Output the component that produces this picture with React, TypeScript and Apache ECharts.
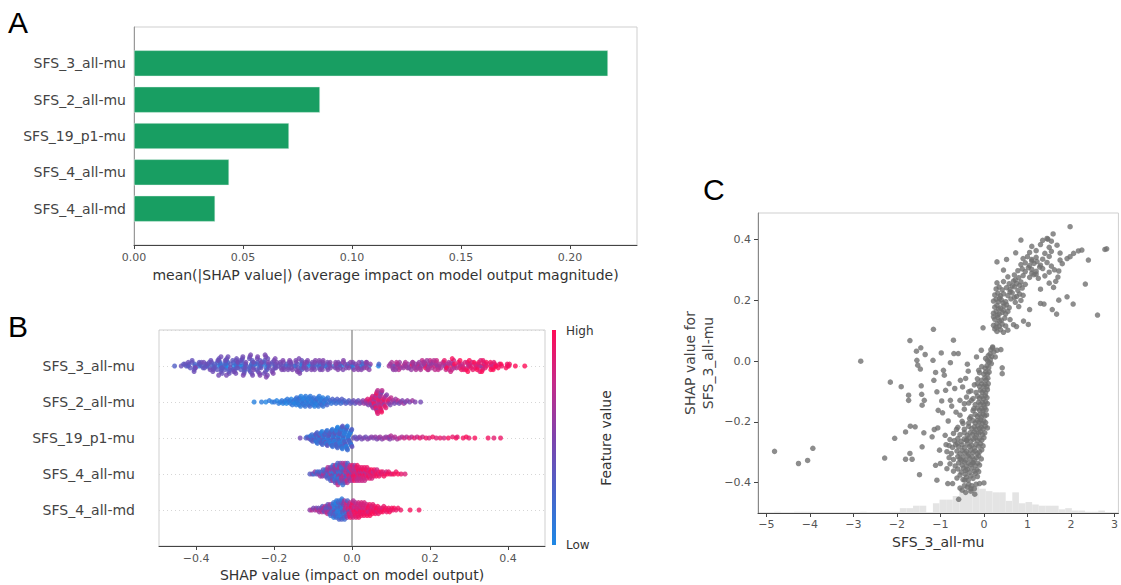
import React, { useEffect, useRef } from 'react';
import * as echarts from 'echarts';

// ---------------- DATA ----------------
const features = ['SFS_3_all-mu', 'SFS_2_all-mu', 'SFS_19_p1-mu', 'SFS_4_all-mu', 'SFS_4_all-md'];
const meanAbsShap = [0.2174, 0.0853, 0.0711, 0.0436, 0.0372];

const aTicks = [0, 0.05, 0.1, 0.15, 0.2];
const bTicks = [-0.4, -0.2, 0, 0.2, 0.4];
const cXTicks = [-5, -4, -3, -2, -1, 0, 1, 2, 3];
const cYTicks = [-0.4, -0.2, 0, 0.2, 0.4];

// Panel C: [feature value SFS_3_all-mu, SHAP value for SFS_3_all-mu]
const sfs3Points: number[][] = [
  [-4.81,-0.297],[-4.26,-0.337],[-4.05,-0.327],[-3.93,-0.287],[-2.83,0.0],[-2.28,-0.319],[-2.15,-0.069],[-2.05,-0.254],[-1.9,-0.084],[-1.8,-0.233],[-1.8,-0.323],[-1.73,-0.112],[-1.73,-0.129],[-1.7,0.068],[-1.7,-0.304],[-1.69,-0.214],[-1.65,-0.323],[-1.58,-0.216],[-1.55,0.033],[-1.54,0.003],[-1.52,-0.013],[-1.48,-0.374],[-1.46,-0.026],[-1.45,0.044],[-1.44,-0.081],[-1.43,-0.109],[-1.42,-0.145],[-1.42,-0.282],[-1.38,-0.236],[-1.37,-0.129],[-1.35,0.022],[-1.19,-0.249],[-1.17,0.003],[-1.16,0.105],[-1.15,-0.063],[-1.14,-0.225],[-1.11,-0.037],[-1.11,-0.343],[-1.08,-0.392],[-1.08,-0.101],[-1.06,-0.22],[-1.05,-0.162],[-1.02,-0.293],[-1.0,-0.337],[-0.98,0.027],[-0.97,-0.131],[-0.95,-0.17],[-0.93,-0.03],[-0.91,-0.046],[-0.89,-0.244],[-0.88,-0.096],[-0.87,-0.275],[-0.85,-0.354],[-0.83,-0.403],[-0.82,-0.197],[-0.8,-0.074],[-0.77,-0.005],[-0.77,-0.129],[-0.74,-0.148],[-0.72,-0.403],[-0.7,0.069],[-0.69,0.025],[-0.67,-0.09],[-0.64,-0.168],[-0.63,-0.225],[-0.61,-0.271],[-0.59,0.025],[-0.58,-0.455],[-0.55,-0.129],[-0.54,-0.063],[-0.52,-0.326],[-0.49,-0.085],[-0.48,-0.205],[-0.45,-0.14],[-0.44,-0.392],[-0.42,-0.057],[-0.4,-0.26],[-0.38,-0.01],[-0.36,-0.033],[-0.35,-0.101],[-0.33,-0.189],[-0.3,-0.42],[-0.29,-0.129],[-0.25,-0.335],[-0.23,-0.156],[-0.21,-0.438],[-0.17,0.014],[-0.15,-0.074],[-0.12,-0.03],[-0.1,-0.403],[-0.06,0.036],[-0.02,0.11],[0.0,-0.401],[0.04,0.009],[0.17,-0.008],[0.2,0.047],[0.23,0.031],[0.26,0.014],[0.3,0.036],[0.39,0.038],[0.42,-0.022],[0.42,-0.041],
  [-0.55,-0.418],[-0.5,-0.425],[-0.45,-0.41],[-0.42,-0.432],[-0.38,-0.415],[-0.35,-0.405],[-0.3,-0.428],[-0.28,-0.41],[-0.22,-0.42],[-0.18,-0.405],
  [-0.62,-0.385],[-0.55,-0.375],[-0.48,-0.39],[-0.43,-0.372],[-0.4,-0.382],[-0.36,-0.392],[-0.3,-0.378],[-0.25,-0.386],[-0.2,-0.37],[-0.15,-0.38],
  [-0.7,-0.362],[-0.6,-0.355],[-0.52,-0.365],[-0.47,-0.352],[-0.42,-0.36],[-0.38,-0.356],[-0.33,-0.366],[-0.28,-0.352],[-0.22,-0.362],[-0.16,-0.357],[-0.12,-0.364],
  [-0.78,-0.338],[-0.66,-0.345],[-0.58,-0.335],[-0.5,-0.342],[-0.45,-0.332],[-0.4,-0.346],[-0.35,-0.336],[-0.3,-0.341],[-0.25,-0.333],[-0.2,-0.344],[-0.14,-0.336],[-0.1,-0.342],
  [-0.8,-0.318],[-0.7,-0.324],[-0.6,-0.314],[-0.55,-0.322],[-0.48,-0.316],[-0.42,-0.326],[-0.37,-0.312],[-0.32,-0.321],[-0.27,-0.315],[-0.22,-0.325],[-0.17,-0.318],[-0.12,-0.312],[-0.06,-0.322],
  [-0.85,-0.298],[-0.75,-0.304],[-0.62,-0.296],[-0.55,-0.305],[-0.5,-0.294],[-0.44,-0.302],[-0.4,-0.297],[-0.35,-0.306],[-0.3,-0.293],[-0.25,-0.301],[-0.2,-0.296],[-0.15,-0.304],[-0.1,-0.298],[-0.05,-0.292],
  [-0.8,-0.278],[-0.72,-0.284],[-0.65,-0.275],[-0.58,-0.282],[-0.5,-0.276],[-0.45,-0.285],[-0.38,-0.273],[-0.33,-0.281],[-0.28,-0.277],[-0.22,-0.286],[-0.18,-0.274],[-0.12,-0.28],[-0.08,-0.272],[-0.02,-0.279],
  [-0.78,-0.258],[-0.68,-0.262],[-0.6,-0.255],[-0.52,-0.264],[-0.45,-0.256],[-0.4,-0.261],[-0.35,-0.253],[-0.3,-0.263],[-0.24,-0.257],[-0.2,-0.252],[-0.15,-0.262],[-0.1,-0.255],[-0.05,-0.26],[0.0,-0.252],
  [-0.7,-0.238],[-0.55,-0.242],[-0.45,-0.235],[-0.38,-0.244],[-0.32,-0.236],[-0.26,-0.241],[-0.22,-0.233],[-0.17,-0.243],[-0.12,-0.237],[-0.08,-0.232],[-0.03,-0.242],[0.02,-0.236],
  [-0.6,-0.218],[-0.45,-0.224],[-0.35,-0.215],[-0.28,-0.222],[-0.22,-0.216],[-0.18,-0.225],[-0.14,-0.213],[-0.1,-0.221],[-0.06,-0.217],[-0.02,-0.223],[0.03,-0.214],[0.08,-0.22],
  [-0.5,-0.198],[-0.35,-0.204],[-0.25,-0.196],[-0.2,-0.203],[-0.15,-0.195],[-0.11,-0.2],[-0.07,-0.193],[-0.04,-0.205],[0.0,-0.197],[0.04,-0.202],
  [-0.55,-0.178],[-0.3,-0.183],[-0.2,-0.175],[-0.15,-0.182],[-0.1,-0.176],[-0.06,-0.184],[-0.02,-0.174],[0.02,-0.18],[0.06,-0.177],
  [-0.45,-0.158],[-0.25,-0.163],[-0.15,-0.155],[-0.1,-0.161],[-0.05,-0.156],[-0.02,-0.164],[0.02,-0.153],[0.05,-0.16],
  [-0.35,-0.138],[-0.2,-0.143],[-0.12,-0.135],[-0.08,-0.142],[-0.03,-0.136],[0.0,-0.144],[0.04,-0.134],[0.08,-0.14],
  [-0.4,-0.118],[-0.25,-0.123],[-0.15,-0.115],[-0.1,-0.122],[-0.05,-0.116],[-0.01,-0.124],[0.03,-0.114],[0.07,-0.12],
  [-0.3,-0.098],[-0.18,-0.103],[-0.08,-0.095],[-0.04,-0.102],[0.0,-0.096],[0.04,-0.104],[0.08,-0.094],
  [-0.22,-0.078],[-0.1,-0.083],[-0.05,-0.075],[0.0,-0.082],[0.03,-0.076],[0.07,-0.084],[0.1,-0.074],
  [-0.15,-0.058],[-0.06,-0.063],[0.02,-0.055],[0.05,-0.062],[0.09,-0.056],
  [-0.1,-0.038],[0.0,-0.043],[0.04,-0.035],[0.08,-0.042],[0.12,-0.036],
  [-0.05,-0.018],[0.03,-0.023],[0.07,-0.015],[0.11,-0.022],
  [0.08,0.002],[0.12,-0.004],[0.15,0.005],[0.1,0.018],[0.14,0.024],[0.18,0.016],[0.16,0.038],[0.2,0.044],
  [1.98,0.443],[0.85,0.399],[1.59,0.419],[1.47,0.402],[2.78,0.368],[2.82,0.37],[2.4,0.333],[2.33,0.254],[2.61,0.152],[2.05,0.188],[1.91,0.212],[1.72,0.201],[1.67,0.155],[1.57,0.17],[2.25,0.366],[2.17,0.363],[2.06,0.355],[1.98,0.344],[1.91,0.338],[1.3,0.19],[1.38,0.188],[1.05,0.17],[1.02,0.121],[0.91,0.132],[0.52,0.335],[0.45,0.3],[0.3,0.327],[0.73,0.357],
  [0.3,0.098],[0.38,0.104],[0.45,0.095],[0.55,0.102],[0.25,0.106],
  [0.22,0.118],[0.3,0.124],[0.35,0.115],[0.42,0.122],[0.5,0.116],[0.68,0.12],[0.75,0.114],[0.28,0.112],
  [0.25,0.138],[0.32,0.144],[0.4,0.135],[0.48,0.142],[0.6,0.137],[0.22,0.146],[0.36,0.132],
  [0.22,0.158],[0.28,0.163],[0.35,0.155],[0.42,0.161],[0.5,0.156],[0.55,0.164],[0.31,0.152],[0.45,0.168],
  [0.25,0.178],[0.3,0.184],[0.38,0.175],[0.46,0.182],[0.58,0.176],[0.8,0.18],[0.34,0.172],[0.52,0.186],
  [0.22,0.198],[0.28,0.204],[0.33,0.195],[0.4,0.202],[0.5,0.196],[0.62,0.205],[0.72,0.194],[0.85,0.2],[0.36,0.208],[0.44,0.192],
  [0.25,0.218],[0.32,0.224],[0.38,0.215],[0.45,0.222],[0.55,0.216],[0.65,0.225],[0.75,0.213],[0.82,0.221],[0.9,0.217],[0.6,0.228],[0.7,0.21],
  [0.28,0.238],[0.35,0.244],[0.42,0.235],[0.52,0.242],[0.6,0.236],[0.7,0.245],[0.78,0.233],[0.88,0.241],[1.3,0.237],[1.6,0.243],[0.65,0.248],[0.82,0.25],
  [0.3,0.258],[0.45,0.262],[0.58,0.255],[0.68,0.264],[0.75,0.256],[0.85,0.261],[0.95,0.253],[1.5,0.257],[1.65,0.263],[0.72,0.268],
  [0.55,0.278],[0.7,0.284],[0.8,0.275],[0.9,0.282],[1.05,0.276],[1.15,0.285],[1.25,0.273],[1.4,0.281],[1.7,0.277],[1.1,0.29],[1.2,0.287],
  [0.78,0.298],[0.88,0.304],[0.95,0.295],[1.1,0.302],[1.2,0.296],[1.35,0.305],[1.5,0.293],[1.62,0.301],[1.72,0.297],[1.02,0.308],[1.28,0.31],
  [0.85,0.318],[0.95,0.324],[1.05,0.315],[1.15,0.322],[1.3,0.316],[1.45,0.325],[1.55,0.313],[1.8,0.321],[1.1,0.33],[1.22,0.328],
  [0.9,0.338],[1.0,0.344],[1.1,0.335],[1.2,0.342],[1.35,0.336],[1.5,0.345],[1.75,0.333],
  [1.05,0.358],[1.2,0.364],[1.4,0.355],[1.55,0.362],[1.75,0.356],
  [1.1,0.378],[1.3,0.384],[1.5,0.375],[1.68,0.382],
  [1.35,0.398],[1.45,0.404],[1.55,0.395],
];

// Panel B rows 2-5: [SHAP value, normalized feature value]
const sfs2Points: number[][] = [
  [-0.251,0.05],[-0.232,0.08],[-0.221,0.03],[-0.212,0.1],[-0.205,0.06],[-0.199,0.12],[-0.193,0.04],[-0.188,0.09],[-0.184,0.07],[-0.18,0.11],
  [-0.177,0.05],[-0.174,0.13],[-0.171,0.08],[-0.168,0.02],[-0.166,0.1],[-0.163,0.06],[-0.16,0.14],[-0.158,0.09],[-0.156,0.04],[-0.153,0.12],[-0.151,0.07],[-0.149,0.15],[-0.147,0.03],[-0.145,0.1],[-0.143,0.08],[-0.142,0.16],[-0.141,0.05],[-0.14,0.11],
  [-0.138,0.09],[-0.137,0.13],[-0.135,0.06],[-0.134,0.18],[-0.132,0.1],[-0.131,0.04],[-0.129,0.12],[-0.128,0.08],[-0.126,0.15],[-0.125,0.07],[-0.123,0.11],[-0.122,0.03],[-0.12,0.14],[-0.119,0.09],[-0.117,0.06],[-0.116,0.17],[-0.114,0.1],[-0.113,0.05],[-0.111,0.13],[-0.11,0.08],[-0.108,0.2],[-0.107,0.11],[-0.105,0.04],[-0.104,0.15],[-0.102,0.09],[-0.101,0.07],[-0.099,0.12],[-0.098,0.16],[-0.096,0.06],[-0.095,0.1],[-0.093,0.14],[-0.092,0.08],[-0.09,0.19],[-0.089,0.05],[-0.087,0.11],[-0.086,0.13],[-0.084,0.09],[-0.083,0.17],[-0.081,0.07],[-0.08,0.12],[-0.078,0.1],[-0.077,0.22],[-0.075,0.06],[-0.074,0.14],[-0.072,0.11],[-0.07,0.18],[-0.068,0.08],[-0.066,0.13],[-0.064,0.24],[-0.062,0.1],
  [-0.059,0.16],[-0.056,0.2],[-0.053,0.12],[-0.05,0.26],[-0.047,0.15],[-0.044,0.22],[-0.041,0.18],[-0.038,0.28],[-0.035,0.14],[-0.032,0.25],[-0.029,0.2],[-0.026,0.3],[-0.023,0.17],[-0.02,0.27],[-0.016,0.33],[-0.012,0.22],[-0.008,0.3],[-0.004,0.36],
  [0.0,0.32],[0.004,0.4],[0.008,0.35],[0.012,0.45],[0.016,0.38],[0.02,0.5],[0.024,0.42],[0.028,0.55],
  [0.031,0.6],[0.034,0.48],[0.036,0.72],[0.038,0.58],[0.04,0.85],[0.042,0.5],[0.044,0.7],[0.046,0.92],[0.047,0.62],[0.049,0.8],[0.05,0.45],[0.051,0.95],[0.052,0.68],[0.053,0.78],[0.054,0.55],[0.055,0.88],[0.056,0.73],[0.057,0.98],[0.058,0.6],[0.058,0.82],[0.059,0.9],[0.06,0.52],[0.06,0.76],[0.061,0.94],[0.062,0.66],[0.062,0.86],[0.063,0.99],[0.064,0.58],[0.064,0.8],[0.065,0.92],[0.066,0.7],[0.066,0.84],[0.067,0.5],[0.068,0.96],[0.068,0.74],[0.069,0.88],[0.07,0.62],[0.07,0.9],[0.071,0.78],[0.072,0.55],[0.072,0.85],[0.073,0.7],[0.074,0.93],[0.074,0.6],[0.075,0.8],[0.076,0.48],[0.076,0.97],[0.077,0.72],[0.078,0.88],[0.079,0.64],[0.08,0.83],[0.081,0.95],[0.082,0.58],[0.083,0.76],[0.084,0.9],[0.086,0.68],[0.087,0.86],[0.089,0.52],[0.09,0.79],[0.092,0.94],[0.094,0.6],[0.096,0.82],[0.098,0.48],[0.1,0.72],
  [0.103,0.55],[0.106,0.65],[0.109,0.45],[0.112,0.6],[0.115,0.5],[0.118,0.7],[0.121,0.42],[0.125,0.58],[0.129,0.5],[0.133,0.62],[0.137,0.45],[0.142,0.55],[0.148,0.48],[0.155,0.6],[0.162,0.5],[0.176,0.45],
];

const sfs19Points: number[][] = [
  [-0.133,0.45],
  [-0.118,0.3],[-0.115,0.15],[-0.112,0.4],
  [-0.109,0.22],[-0.1075,0.35],[-0.106,0.1],[-0.104,0.28],[-0.1025,0.18],[-0.101,0.32],
  [-0.0995,0.12],[-0.0985,0.25],[-0.097,0.4],[-0.096,0.08],[-0.0945,0.2],[-0.0935,0.3],[-0.092,0.14],[-0.091,0.36],[-0.0905,0.1],
  [-0.0895,0.24],[-0.0885,0.16],[-0.0875,0.33],[-0.0865,0.06],[-0.0855,0.21],[-0.0845,0.28],[-0.0835,0.12],[-0.0825,0.38],[-0.0815,0.18],[-0.0805,0.09],
  [-0.0795,0.26],[-0.0786,0.15],[-0.0777,0.31],[-0.0768,0.05],[-0.0759,0.22],[-0.075,0.35],[-0.0741,0.13],[-0.0732,0.27],[-0.0723,0.08],[-0.0714,0.19],[-0.0705,0.3],
  [-0.0696,0.11],[-0.0688,0.24],[-0.068,0.37],[-0.0671,0.16],[-0.0663,0.07],[-0.0655,0.29],[-0.0646,0.2],[-0.0638,0.12],[-0.063,0.34],[-0.0621,0.05],[-0.0613,0.23],[-0.0605,0.15],
  [-0.0596,0.31],[-0.0588,0.1],[-0.0581,0.26],[-0.0573,0.18],[-0.0565,0.38],[-0.0558,0.07],[-0.055,0.22],[-0.0542,0.14],[-0.0535,0.3],[-0.0527,0.04],[-0.0519,0.19],[-0.0512,0.27],[-0.0504,0.11],
  [-0.0497,0.16],[-0.049,0.34],[-0.0483,0.07],[-0.0477,0.22],[-0.047,0.12],[-0.0463,0.29],[-0.0457,0.18],[-0.045,0.04],[-0.0443,0.26],[-0.0437,0.14],[-0.043,0.37],[-0.0423,0.09],[-0.0417,0.21],[-0.041,0.31],[-0.0403,0.11],
  [-0.0397,0.19],[-0.0391,0.06],[-0.0385,0.28],[-0.0379,0.15],[-0.0373,0.23],[-0.0368,0.03],[-0.0362,0.33],[-0.0356,0.1],[-0.035,0.2],[-0.0344,0.13],[-0.0338,0.27],[-0.0332,0.08],[-0.0326,0.17],[-0.0321,0.36],[-0.0315,0.12],[-0.0309,0.24],[-0.0303,0.05],
  [-0.0297,0.3],[-0.0292,0.14],[-0.0286,0.21],[-0.0281,0.09],[-0.0275,0.18],[-0.027,0.29],[-0.0264,0.04],[-0.0259,0.16],[-0.0253,0.25],[-0.0248,0.11],[-0.0242,0.34],[-0.0237,0.07],[-0.0231,0.2],[-0.0226,0.13],[-0.022,0.26],[-0.0215,0.03],[-0.0209,0.17],[-0.0204,0.22],
  [-0.0197,0.1],[-0.0192,0.29],[-0.0186,0.06],[-0.0181,0.19],[-0.0175,0.12],[-0.017,0.34],[-0.0164,0.08],[-0.0159,0.24],[-0.0153,0.15],[-0.0148,0.02],[-0.0142,0.21],[-0.0137,0.1],[-0.0131,0.31],[-0.0126,0.14],[-0.012,0.05],[-0.0115,0.18],[-0.0109,0.26],[-0.0104,0.09],
  [-0.0097,0.16],[-0.009,0.04],[-0.0083,0.22],[-0.0076,0.12],[-0.0069,0.3],[-0.0062,0.07],[-0.0055,0.18],[-0.0048,0.1],[-0.0041,0.25],[-0.0034,0.03],[-0.0027,0.15],[-0.002,0.2],[-0.0013,0.09],[-0.0006,0.28],
  [0.0,0.38],[0.004,0.42],[0.008,0.36],[0.012,0.45],[0.016,0.4],[0.02,0.48],[0.025,0.44],[0.03,0.5],[0.035,0.42],[0.04,0.52],[0.045,0.47],[0.05,0.55],[0.055,0.5],[0.06,0.58],[0.064,0.46],[0.068,0.56],[0.072,0.6],[0.077,0.52],[0.082,0.62],[0.087,0.55],[0.092,0.65],[0.095,0.58],[0.097,0.5],[0.1,0.68],[0.105,0.6],[0.11,0.7],[0.116,0.62],[0.122,0.75],[0.128,0.66],[0.134,0.8],[0.14,0.7],[0.147,0.85],[0.153,0.72],[0.16,0.88],[0.167,0.78],[0.174,0.9],[0.181,0.8],[0.19,0.92],[0.198,0.84],[0.207,0.95],[0.216,0.86],[0.226,0.9],[0.236,0.82],[0.247,0.96],[0.258,0.9],[0.267,0.98],[0.27,0.88],[0.285,0.94],[0.293,0.99],[0.3,0.9],[0.315,0.97],[0.349,0.95],[0.364,0.88],[0.381,0.92],
];

const sfs4MuPoints: number[][] = [
  [-0.108,0.3],[-0.102,0.45],
  [-0.098,0.2],[-0.095,0.55],[-0.091,0.35],
  [-0.089,0.15],[-0.086,0.5],[-0.084,0.28],[-0.081,0.62],
  [-0.079,0.4],[-0.078,0.18],[-0.076,0.52],[-0.074,0.33],[-0.073,0.7],[-0.071,0.25],
  [-0.069,0.48],[-0.068,0.12],[-0.067,0.6],[-0.066,0.38],[-0.065,0.22],[-0.064,0.55],[-0.063,0.3],[-0.062,0.68],[-0.061,0.15],
  [-0.0595,0.45],[-0.059,0.35],[-0.058,0.62],[-0.057,0.2],[-0.056,0.5],[-0.055,0.28],[-0.054,0.72],[-0.053,0.1],[-0.052,0.42],[-0.0515,0.58],[-0.051,0.25],[-0.0505,0.36],
  [-0.0495,0.65],[-0.049,0.18],[-0.048,0.5],[-0.0475,0.08],[-0.047,0.32],[-0.046,0.6],[-0.0455,0.22],[-0.045,0.45],[-0.044,0.12],[-0.0435,0.7],[-0.043,0.38],[-0.042,0.28],[-0.0415,0.55],[-0.041,0.05],[-0.0405,0.42],
  [-0.0398,0.18],[-0.0392,0.64],[-0.0386,0.3],[-0.038,0.1],[-0.0374,0.5],[-0.0368,0.25],[-0.0362,0.75],[-0.0356,0.35],[-0.035,0.15],[-0.0344,0.58],[-0.0338,0.44],[-0.0332,0.08],[-0.0326,0.68],[-0.032,0.27],[-0.0314,0.52],[-0.0308,0.2],[-0.0302,0.4],
  [-0.0296,0.62],[-0.029,0.12],[-0.0284,0.48],[-0.0278,0.33],[-0.0272,0.72],[-0.0266,0.06],[-0.026,0.56],[-0.0254,0.24],[-0.0248,0.4],[-0.0242,0.66],[-0.0236,0.16],[-0.023,0.5],[-0.0224,0.3],[-0.0218,0.78],[-0.0212,0.44],[-0.0206,0.6],
  [-0.0198,0.2],[-0.0192,0.52],[-0.0186,0.74],[-0.018,0.35],[-0.0174,0.65],[-0.0168,0.1],[-0.0162,0.8],[-0.0156,0.45],[-0.015,0.7],[-0.0144,0.28],[-0.0138,0.58],[-0.0132,0.85],[-0.0126,0.4],[-0.012,0.68],[-0.0114,0.22],
  [-0.0097,0.76],[-0.009,0.55],[-0.0083,0.88],[-0.0076,0.36],[-0.0069,0.62],[-0.0062,0.8],[-0.0055,0.48],[-0.0048,0.72],[-0.0041,0.9],[-0.0034,0.3],[-0.0027,0.66],[-0.002,0.82],[-0.0013,0.56],[-0.0006,0.76],
  [0.0003,0.7],[0.001,0.88],[0.0018,0.62],[0.0025,0.8],[0.0033,0.95],[0.004,0.68],[0.0048,0.84],[0.0055,0.74],[0.0063,0.92],[0.007,0.6],[0.0078,0.86],[0.0085,0.78],[0.0093,0.97],
  [0.0102,0.66],[0.011,0.82],[0.0118,0.9],[0.0126,0.72],[0.0134,0.94],[0.0142,0.64],[0.015,0.86],[0.0158,0.8],[0.0166,0.98],[0.0174,0.7],[0.0182,0.88],[0.019,0.76],
  [0.0203,0.93],[0.0212,0.68],[0.0221,0.84],[0.023,0.96],[0.0239,0.74],[0.0248,0.9],[0.0257,0.78],[0.0266,0.95],[0.0275,0.7],[0.0284,0.86],[0.0293,0.99],
  [0.0305,0.82],[0.0315,0.9],[0.0325,0.76],[0.0335,0.95],[0.0345,0.7],[0.0355,0.86],[0.0365,0.98],[0.0375,0.8],[0.0385,0.92],[0.0395,0.74],
  [0.041,0.88],[0.042,0.97],[0.0435,0.82],[0.045,0.9],[0.046,0.76],[0.047,0.95],[0.0485,0.86],[0.0495,0.99],
  [0.051,0.8],[0.0525,0.92],[0.054,0.72],[0.0555,0.88],[0.057,0.96],[0.058,0.84],[0.0595,0.9],
  [0.062,0.93],[0.064,0.78],[0.066,0.97],[0.068,0.88],[0.0695,0.95],
  [0.072,0.82],[0.0745,0.99],[0.077,0.9],[0.079,0.86],
  [0.082,0.96],[0.085,0.92],[0.088,0.8],
  [0.091,0.98],[0.094,0.9],[0.098,0.94],
  [0.103,0.88],[0.108,0.97],[0.113,0.92],[0.118,0.99],[0.126,0.9],[0.136,0.85],
];

const sfs4MdPoints: number[][] = [
  [-0.108,0.55],[-0.103,0.7],
  [-0.099,0.45],[-0.095,0.62],[-0.092,0.5],
  [-0.089,0.75],[-0.086,0.4],[-0.084,0.6],[-0.081,0.68],
  [-0.079,0.48],[-0.077,0.72],[-0.076,0.35],[-0.074,0.58],[-0.073,0.65],[-0.071,0.42],
  [-0.069,0.7],[-0.068,0.52],[-0.067,0.3],[-0.066,0.62],[-0.064,0.45],[-0.063,0.74],[-0.062,0.38],[-0.061,0.56],
  [-0.0595,0.25],[-0.059,0.66],[-0.058,0.48],[-0.057,0.32],[-0.056,0.6],[-0.055,0.2],[-0.054,0.52],[-0.053,0.4],[-0.052,0.15],[-0.051,0.58],
  [-0.0495,0.28],[-0.049,0.1],[-0.048,0.35],[-0.0475,0.18],[-0.047,0.06],[-0.046,0.25],[-0.0455,0.12],[-0.045,0.42],[-0.044,0.08],[-0.0435,0.2],[-0.043,0.15],[-0.042,0.3],[-0.0415,0.04],[-0.041,0.22],
  [-0.0398,0.1],[-0.0392,0.38],[-0.0386,0.16],[-0.038,0.07],[-0.0374,0.26],[-0.0368,0.12],[-0.0362,0.05],[-0.0356,0.2],[-0.035,0.33],[-0.0344,0.09],[-0.0338,0.14],[-0.0332,0.24],[-0.0326,0.03],[-0.032,0.18],[-0.0314,0.11],[-0.0308,0.3],[-0.0302,0.07],
  [-0.0296,0.22],[-0.029,0.13],[-0.0284,0.4],[-0.0278,0.05],[-0.0272,0.17],[-0.0266,0.28],[-0.026,0.1],[-0.0254,0.2],[-0.0248,0.08],[-0.0242,0.34],[-0.0236,0.14],[-0.023,0.25],[-0.0224,0.45],[-0.0218,0.12],[-0.0212,0.5],[-0.0206,0.3],
  [-0.0197,0.6],[-0.019,0.2],[-0.0182,0.55],[-0.0175,0.7],[-0.0167,0.38],[-0.016,0.65],[-0.0152,0.15],[-0.0145,0.75],[-0.0137,0.48],[-0.013,0.8],[-0.0122,0.58],[-0.0115,0.25],[-0.0107,0.72],
  [-0.0098,0.85],[-0.009,0.5],[-0.0083,0.78],[-0.0075,0.9],[-0.0068,0.62],[-0.006,0.82],[-0.0053,0.7],[-0.0045,0.92],[-0.0038,0.4],[-0.003,0.86],[-0.0023,0.75],[-0.0015,0.95],[-0.0008,0.68],
  [0.0002,0.85],[0.001,0.75],[0.0017,0.95],[0.0025,0.8],[0.0032,0.68],[0.004,0.9],[0.0047,0.78],[0.0055,0.97],[0.0062,0.72],[0.007,0.88],[0.0077,0.82],[0.0085,0.94],[0.0092,0.7],
  [0.0102,0.86],[0.011,0.99],[0.0118,0.76],[0.0126,0.9],[0.0134,0.84],[0.0142,0.96],[0.015,0.74],[0.0158,0.88],[0.0166,0.8],[0.0174,0.93],[0.0182,0.7],[0.019,0.86],
  [0.0202,0.98],[0.021,0.78],[0.0218,0.9],[0.0226,0.84],[0.0234,0.95],[0.0242,0.82],[0.025,0.92],[0.0258,0.76],[0.0266,0.97],[0.0274,0.86],[0.0282,0.9],[0.029,0.8],
  [0.0305,0.95],[0.0315,0.82],[0.0325,0.92],[0.0335,0.76],[0.0345,0.97],[0.0355,0.86],[0.0365,0.9],[0.0375,0.8],[0.0385,0.99],[0.0395,0.88],
  [0.041,0.94],[0.042,0.78],[0.043,0.96],[0.044,0.86],[0.045,0.92],[0.046,0.98],[0.047,0.84],[0.048,0.9],[0.049,0.95],
  [0.051,0.8],[0.052,0.99],[0.0535,0.88],[0.055,0.93],[0.056,0.85],[0.057,0.97],[0.058,0.9],[0.0595,0.96],
  [0.0615,0.92],[0.063,0.99],[0.0645,0.86],[0.066,0.95],[0.0675,0.9],[0.069,0.98],
  [0.0715,0.88],[0.0735,0.96],[0.0755,0.93],[0.0775,0.85],[0.079,0.97],
  [0.0815,0.9],[0.084,0.99],[0.0865,0.94],[0.089,0.88],
  [0.0915,0.96],[0.094,0.92],[0.0965,0.98],[0.099,0.9],
  [0.102,0.95],[0.105,0.92],[0.108,0.98],[0.113,0.9],[0.118,0.95],[0.125,0.93],
  [0.149,0.97],[0.172,0.94],
];

// Panel C histogram of SFS_3_all-mu
const histStart = -4.82;
const histBinWidth = 0.152;
const histCounts = [1,0,0,1,1,1,0,0,0,0,0,0,0,1,0,0,1,1,1,4,4,6,6,0,8,11,11,14,18,22,22,20,18,17,17,10,17,8,9,7,6,6,6,3,4,2,2,1,1,2];

// ---------------- HELPERS ----------------
const cmap = ['#1e88e5', '#4a63c9', '#7f43ad', '#c42b8a', '#ff0d57'];
const FONT = 'DejaVu Sans';
const fmt = (v: number, d: number) => (v < -1e-9 ? '\u2212' : '') + Math.abs(v).toFixed(d);

// shap-style beeswarm layout; bin count scaled with sample size (shap: 100 bins for ~500 samples)
function beeswarm(shaps: number[], rowHeight = 0.4): number[] {
  const nbins = Math.max(20, Math.round((100 * shaps.length) / 500));
  const mn = Math.min(...shaps);
  const mx = Math.max(...shaps);
  const quant = shaps.map((s) => Math.round((nbins * (s - mn)) / (mx - mn + 1e-8)));
  const inds = shaps.map((_, i) => i).sort((a, b) => quant[a] - quant[b] || a - b);
  const ys = new Array(shaps.length).fill(0);
  let layer = 0;
  let last = -1;
  for (const ind of inds) {
    if (quant[ind] !== last) layer = 0;
    ys[ind] = Math.ceil(layer / 2) * ((layer % 2) * 2 - 1);
    layer += 1;
    last = quant[ind];
  }
  const maxY = Math.max(...ys.map((y) => y + 1));
  const scale = 0.9 * (rowHeight / maxY);
  return ys.map((y) => y * scale);
}

function percentile(vals: number[], p: number) {
  const s = [...vals].sort((a, b) => a - b);
  const idx = (p / 100) * (s.length - 1);
  const lo = Math.floor(idx);
  const hi = Math.ceil(idx);
  return s[lo] + (s[hi] - s[lo]) * (idx - lo);
}

export default function App() {
  const ref = useRef<HTMLDivElement>(null);

  useEffect(() => {
    if (!ref.current) return;
    const chart = echarts.init(ref.current, undefined, { renderer: 'svg' });

    const fx = sfs3Points.map((p) => p[0]);
    const vmin = percentile(fx, 5);
    const vmax = percentile(fx, 95);
    const norm = (x: number) => Math.max(0, Math.min(1, (x - vmin) / (vmax - vmin)));
    const rowsData = [
      sfs3Points.map((p) => [p[1], norm(p[0])]),
      sfs2Points,
      sfs19Points,
      sfs4MuPoints,
      sfs4MdPoints,
    ];
    const nRows = features.length;
    const swarm: number[][] = [];
    rowsData.forEach((pts, i) => {
      const pos = nRows - 1 - i;
      const offs = beeswarm(pts.map((p) => p[0]));
      pts.forEach((p, k) => swarm.push([p[0], pos + offs[k], p[1]]));
    });

    const catA = ['', ...[...features].reverse(), ''];
    const barData = ['-', ...[...meanAbsShap].reverse(), '-'];

    const cYMin = -0.5;
    const maxCount = Math.max(...histCounts);
    const histData = histCounts.map((c, i) => [
      histStart + i * histBinWidth,
      histStart + (i + 1) * histBinWidth,
      (c / maxCount) * 0.088,
    ]);

    const labelStyle = { fontFamily: FONT, color: '#555', fontSize: 11 };
    const nameStyle = { fontFamily: FONT, color: '#333', fontSize: 14 };

    chart.setOption({
      animation: false,
      textStyle: { fontFamily: FONT },
      grid: [
        { left: 134, top: 27, width: 503, height: 218, show: true, borderColor: '#cfcfcf', borderWidth: 1 },
        { left: 159, top: 330, width: 386, height: 216, show: true, borderColor: '#cfcfcf', borderWidth: 1 },
        { left: 758, top: 213, width: 364, height: 300, show: true, borderColor: '#cfcfcf', borderWidth: 1 },
      ],
      xAxis: [
        {
          gridIndex: 0, type: 'value', min: 0, max: 0.2307, interval: 0.05,
          axisLine: { show: true, onZero: false, lineStyle: { color: '#444', width: 1 } },
          axisTick: { show: true, length: 4, lineStyle: { color: '#444' }, customValues: aTicks },
          axisLabel: { ...labelStyle, margin: 7, customValues: aTicks, formatter: (v: number) => fmt(v, 2) },
          splitLine: { show: false },
          name: 'mean(|SHAP value|) (average impact on model output magnitude)',
          nameLocation: 'middle', nameGap: 23, nameTextStyle: nameStyle,
        },
        {
          gridIndex: 1, type: 'value', min: -0.495, max: 0.495, minInterval: 0.2, maxInterval: 0.2,
          axisLine: { show: true, onZero: false, lineStyle: { color: '#444', width: 1 } },
          axisTick: { show: true, length: 4, lineStyle: { color: '#444' }, customValues: bTicks },
          axisLabel: { ...labelStyle, margin: 7, customValues: bTicks, formatter: (v: number) => fmt(v, 1) },
          splitLine: { show: false },
          name: 'SHAP value (impact on model output)',
          nameLocation: 'middle', nameGap: 22, nameTextStyle: nameStyle,
        },
        {
          gridIndex: 2, type: 'value', min: -5.19, max: 3.09, minInterval: 1, maxInterval: 1,
          axisLine: { show: true, onZero: false, lineStyle: { color: '#444', width: 1 } },
          axisTick: { show: true, length: 4, lineStyle: { color: '#444' }, customValues: cXTicks },
          axisLabel: { ...labelStyle, margin: 6, customValues: cXTicks, formatter: (v: number) => fmt(v, 0) },
          splitLine: { show: false },
          name: 'SFS_3_all-mu',
          nameLocation: 'middle', nameGap: 22, nameTextStyle: nameStyle,
        },
      ],
      yAxis: [
        {
          gridIndex: 0, type: 'category', data: catA, boundaryGap: false,
          axisLine: { show: true, onZero: false, lineStyle: { color: '#999' } },
          axisTick: { show: false },
          axisLabel: { fontFamily: FONT, color: '#444', fontSize: 14, margin: 8 },
          splitLine: { show: false },
        },
        {
          gridIndex: 1, type: 'value', min: -1, max: 5, interval: 1,
          axisLine: { show: false, onZero: false },
          axisTick: { show: false },
          axisLabel: {
            fontFamily: FONT, color: '#444', fontSize: 14, margin: 24,
            customValues: features.map((_, i) => nRows - 1 - i),
            formatter: (v: number) => features[nRows - 1 - Math.round(v)] ?? '',
          },
          splitLine: { show: true, lineStyle: { color: '#d6d6d6', type: [1, 3], width: 1 } },
        },
        {
          gridIndex: 2, type: 'value', min: cYMin, max: 0.488, minInterval: 0.2, maxInterval: 0.2,
          axisLine: { show: true, onZero: false, lineStyle: { color: '#888' } },
          axisTick: { show: true, length: 4, lineStyle: { color: '#444' }, customValues: cYTicks },
          axisLabel: { ...labelStyle, margin: 7, customValues: cYTicks, formatter: (v: number) => fmt(v, 1) },
          splitLine: { show: false },
        },
      ],
      visualMap: {
        show: false, type: 'continuous', seriesIndex: 2, dimension: 2, min: 0, max: 1,
        inRange: { color: cmap },
      },
      series: [
        {
          type: 'bar', xAxisIndex: 0, yAxisIndex: 0, data: barData, barWidth: 26,
          itemStyle: { color: '#189e62', borderColor: '#e8f5ee', borderWidth: 0.5 },
        },
        {
          type: 'line', xAxisIndex: 1, yAxisIndex: 1, data: [[0, -1], [0, 5]],
          symbol: 'none', lineStyle: { color: '#a0a0a0', width: 1.6 }, z: 1, silent: true,
        },
        {
          type: 'scatter', xAxisIndex: 1, yAxisIndex: 1, data: swarm, symbolSize: 5,
          progressive: 0, z: 2, silent: true,
        },
        {
          type: 'custom', xAxisIndex: 2, yAxisIndex: 2, data: histData, z: 1, silent: true,
          renderItem: (params: any, api: any) => {
            const p0 = api.coord([api.value(0), cYMin + api.value(2)]);
            const p1 = api.coord([api.value(1), cYMin]);
            return {
              type: 'rect',
              shape: { x: p0[0], y: p0[1], width: p1[0] - p0[0], height: p1[1] - p0[1] },
              style: { fill: '#e4e4e4' },
            };
          },
        },
        {
          type: 'scatter', xAxisIndex: 2, yAxisIndex: 2, data: sfs3Points, symbolSize: 5.5,
          itemStyle: { color: '#707070' }, progressive: 0, z: 2, silent: true,
        },
      ],
      graphic: [
        { type: 'text', left: 8, top: 7, style: { text: 'A', font: '30px "Liberation Sans"', fill: '#000' } },
        { type: 'text', left: 8, top: 311, style: { text: 'B', font: '30px "Liberation Sans"', fill: '#000' } },
        { type: 'text', left: 703, top: 174, style: { text: 'C', font: '30px "Liberation Sans"', fill: '#000' } },
        {
          type: 'rect', shape: { x: 552, y: 330, width: 4, height: 215 },
          style: {
            fill: new echarts.graphic.LinearGradient(0, 0, 0, 1,
              [...cmap].reverse().map((c, i) => ({ offset: i / (cmap.length - 1), color: c }))),
          },
        },
        { type: 'text', x: 566, y: 331, style: { text: 'High', font: `12px "${FONT}"`, fill: '#333', textVerticalAlign: 'middle' } },
        { type: 'text', x: 566, y: 545, style: { text: 'Low', font: `12px "${FONT}"`, fill: '#333', textVerticalAlign: 'middle' } },
        {
          type: 'text', x: 606, y: 438, rotation: Math.PI / 2,
          style: { text: 'Feature value', font: `14px "${FONT}"`, fill: '#333', textAlign: 'center', textVerticalAlign: 'middle' },
        },
        {
          type: 'text', x: 699, y: 363, rotation: Math.PI / 2,
          style: {
            text: 'SHAP value for\nSFS_3_all-mu', font: `14px "${FONT}"`, fill: '#444',
            textAlign: 'center', textVerticalAlign: 'middle', lineHeight: 18,
          },
        },
      ],
    });

    return () => chart.dispose();
  }, []);

  return (
    <div
      ref={ref}
      style={{ position: 'absolute', left: 0, top: 0, width: 1121, height: 585, background: '#fff' }}
    />
  );
}
